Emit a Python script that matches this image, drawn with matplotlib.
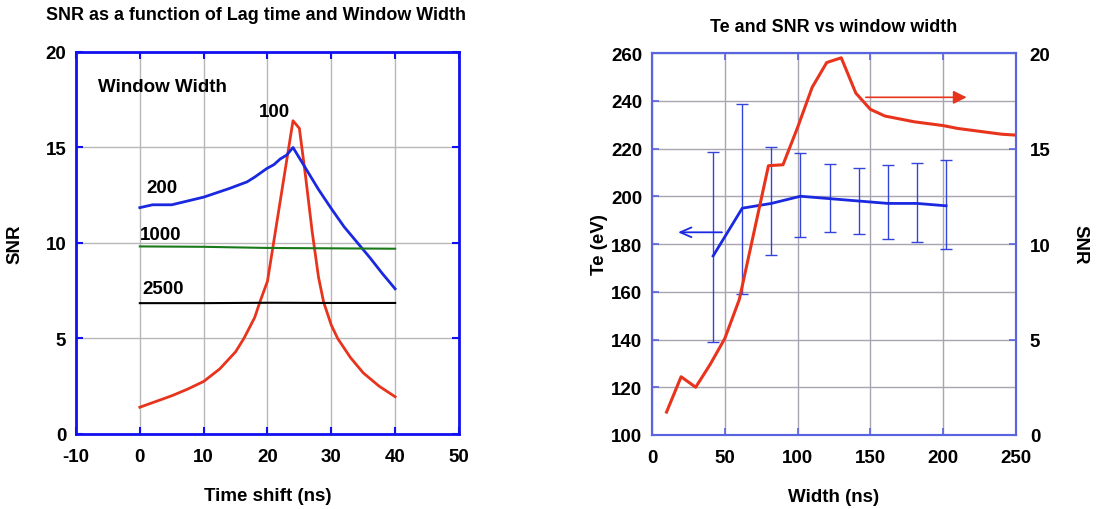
import matplotlib
matplotlib.use("Agg")
import matplotlib.pyplot as plt

plt.rcParams['font.family'] = ['Liberation Sans', 'DejaVu Sans']
plt.rcParams['font.weight'] = 'bold'
plt.rcParams['axes.unicode_minus'] = False

# ---- left panel: SNR vs time shift
t100 = [0, 2.5, 5, 7.5, 10, 12.5, 15, 16.3, 18, 18.8, 20, 21, 22, 23, 24, 25, 26, 27, 28, 28.8, 30, 31, 33, 35, 37.5, 40]
snr100 = [1.4, 1.7, 2.0, 2.35, 2.75, 3.4, 4.3, 5.0, 6.1, 6.9, 8.0, 10.1, 12.2, 14.3, 16.4, 16.0, 13.4, 10.6, 8.2, 6.9, 5.7, 5.0, 4.0, 3.2, 2.5, 1.95]

t200 = [0, 2, 5, 10, 14, 16.8, 18, 19.9, 21, 22, 23, 24, 26, 28, 30, 32, 34, 36, 38, 40]
snr200 = [11.85, 12.0, 12.0, 12.4, 12.85, 13.2, 13.45, 13.9, 14.1, 14.4, 14.6, 15.0, 13.9, 12.8, 11.8, 10.85, 10.05, 9.25, 8.4, 7.6]

t1000 = [0, 10, 20, 30, 40]
snr1000 = [9.82, 9.8, 9.74, 9.72, 9.7]

t2500 = [0, 10, 20, 30, 40]
snr2500 = [6.85, 6.85, 6.87, 6.86, 6.86]

# ---- right panel: Te and SNR vs window width
w_snr = [10, 20, 30, 40, 50, 60, 80, 90, 100, 110, 120, 130, 140, 150, 160, 170, 180, 190, 200, 210, 220, 230, 240, 250]
snr_w = [1.2, 3.05, 2.5, 3.7, 5.05, 7.1, 14.1, 14.15, 16.1, 18.2, 19.5, 19.75, 17.9, 17.05, 16.7, 16.55, 16.4, 16.3, 16.2, 16.05, 15.95, 15.85, 15.75, 15.7]

w_te = [42, 62, 82, 102, 122, 142, 162, 182, 202]
te = [175, 195, 197, 200, 199, 198, 197, 197, 196]
te_lo = [139, 159, 175.5, 183, 185, 184, 182, 181, 178]
te_hi = [218.5, 238.5, 220.5, 218, 213.5, 212, 213, 214, 215]

blue_sp = '#1010f0'
red = '#e8341c'
fs = 13.5

fig = plt.figure(figsize=(11.03, 5.10), dpi=100)

ax1 = fig.add_axes([0.0689, 0.1471, 0.3472, 0.7490])
ax1.plot(t100, snr100, color=red, lw=2)
ax1.plot(t200, snr200, color='#1a28e0', lw=2)
ax1.plot(t1000, snr1000, color='#1a7a1a', lw=1.5)
ax1.plot(t2500, snr2500, color='black', lw=1.5)
ax1.set_xlim(-10, 50)
ax1.set_ylim(0, 20)
ax1.set_xticks(range(-10, 51, 10))
ax1.set_yticks(range(0, 21, 5))
ax1.grid(True, color='#b8b8b8', lw=1)
ax1.set_axisbelow(True)
for s in ax1.spines.values():
    s.set_color(blue_sp)
    s.set_linewidth(2)
ax1.tick_params(direction='in', length=5, width=1.5, color=blue_sp, top=True, right=True, labelsize=fs)
ax1.tick_params(axis='x', pad=10)
ax1.tick_params(axis='y', pad=7)
ax1.set_xlabel('Time shift (ns)', fontsize=fs, fontweight='bold', labelpad=16)
ax1.set_ylabel('SNR', fontsize=fs, fontweight='bold', labelpad=16)
ax1.text(-6.5, 18.17, 'Window Width', fontsize=fs, fontweight='bold', va='center')
ax1.text(21.1, 16.86, '100', fontsize=fs, fontweight='bold', va='center', ha='center')
ax1.text(3.5, 12.93, '200', fontsize=fs, fontweight='bold', va='center', ha='center')
ax1.text(3.2, 10.47, '1000', fontsize=fs, fontweight='bold', va='center', ha='center')
ax1.text(3.6, 7.6, '2500', fontsize=fs, fontweight='bold', va='center', ha='center')
fig.text(46 / 1103, 1 - 15 / 510, 'SNR as a function of Lag time and Window Width',
         fontsize=12.9, fontweight='bold', va='center', ha='left')

ax2 = fig.add_axes([0.5911, 0.1451, 0.3300, 0.7490])
ax3 = ax2.twinx()
ax2.errorbar(w_te, te, yerr=[[a - b for a, b in zip(te, te_lo)], [b - a for a, b in zip(te, te_hi)]],
             color='#1a28e0', lw=2, ecolor='#3344dd', elinewidth=1, capsize=4, capthick=1, zorder=3)
ax3.plot(w_snr, snr_w, color=red, lw=2.2, zorder=3)
ax2.set_xlim(0, 250)
ax2.set_ylim(100, 260)
ax3.set_ylim(0, 20)
ax2.set_xticks(range(0, 251, 50))
ax2.set_yticks(range(100, 261, 20))
ax3.set_yticks(range(0, 21, 5))
ax2.grid(True, color='#a8a4b0', lw=1)
ax2.set_axisbelow(True)
sp2 = '#5a64e0'
for a in (ax2, ax3):
    for s in a.spines.values():
        s.set_color(sp2)
        s.set_linewidth(1.5)
ax2.tick_params(direction='in', length=5, width=1.2, color=sp2, top=True, labelsize=fs)
ax2.tick_params(axis='x', pad=10)
ax2.tick_params(axis='y', pad=7)
ax3.tick_params(direction='in', length=5, width=1.2, color=sp2, labelsize=fs, pad=10)
ax2.annotate('', xy=(16, 184.9), xytext=(50, 184.9),
             arrowprops=dict(arrowstyle='->,head_length=0.8,head_width=0.35', color='#1a28e0', lw=1.3))
ax3.annotate('', xy=(218, 17.68), xytext=(145, 17.68),
             arrowprops=dict(arrowstyle='-|>', color=red, lw=1.2, mutation_scale=20))
ax2.set_xlabel('Width (ns)', fontsize=fs, fontweight='bold', labelpad=16)
ax2.set_ylabel('Te (eV)', fontsize=fs, fontweight='bold', labelpad=2)
ax3.set_ylabel('SNR', fontsize=fs, fontweight='bold', rotation=-90, va='bottom', labelpad=15)
ax2.set_title('Te and SNR vs window width', fontsize=12.9, fontweight='bold', pad=16)

fig.savefig('out.png', dpi=100)
